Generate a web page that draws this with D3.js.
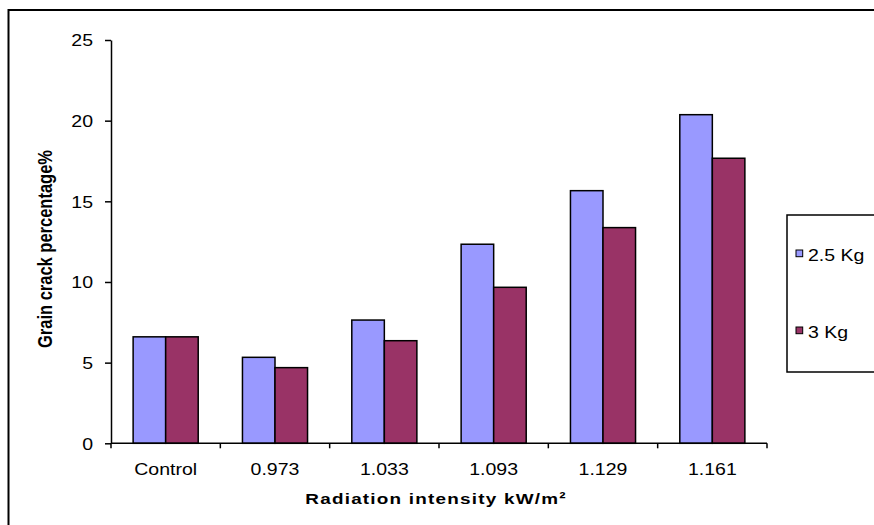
<!DOCTYPE html>
<html>
<head>
<meta charset="utf-8">
<script src="https://cdn.jsdelivr.net/npm/d3@7/dist/d3.min.js"></script>
<style>
  html, body { margin: 0; padding: 0; background: #fff; overflow: hidden; }
  svg { display: block; }
  text { font-family: "Liberation Sans", Arial, sans-serif; fill: #000; }
</style>
</head>
<body>
<svg id="chart" width="874" height="525"></svg>
<script>
// Grain crack percentage by radiation intensity, for two batch loads
const categories = ["Control", "0.973", "1.033", "1.093", "1.129", "1.161"];
const seriesNames = ["2.5 Kg", "3 Kg"];
const load25 = [6.6, 5.33, 7.64, 12.34, 15.66, 20.37];
const load3 = [6.6, 4.69, 6.36, 9.67, 13.37, 17.67];
const yTicks = [0, 5, 10, 15, 20, 25];
const colors = ["#9999FF", "#993366"];

const seriesValues = [load25, load3];
const rows = categories.map((c, i) => ({
  category: c,
  values: seriesNames.map((s, j) => ({ series: s, value: seriesValues[j][i], color: colors[j] }))
}));

const svg = d3.select("#chart");
const stretch = "scale(1.22,1)";

// outer chart frame (runs past the right and bottom edges)
svg.append("rect")
  .attr("x", 8.5).attr("y", 10)
  .attr("width", 1000).attr("height", 1000)
  .attr("fill", "none").attr("stroke", "#000").attr("stroke-width", 2);

const plot = { left: 111, right: 767, top: 40, bottom: 443.3 };

const x = d3.scaleBand().domain(categories).range([plot.left, plot.right]).padding(0);
const xs = d3.scaleBand().domain(seriesNames).range([0, x.bandwidth()])
  .paddingInner(0).paddingOuter(0.68);
const y = d3.scaleLinear().domain([0, 25]).range([plot.bottom, plot.top]);

// bars
const groups = svg.append("g").selectAll("g").data(rows).join("g")
  .attr("transform", d => `translate(${x(d.category)},0)`);
groups.selectAll("rect").data(d => d.values).join("rect")
  .attr("x", d => xs(d.series))
  .attr("y", d => y(d.value))
  .attr("width", xs.bandwidth())
  .attr("height", d => y(0) - y(d.value))
  .attr("fill", d => d.color)
  .attr("stroke", "#000").attr("stroke-width", 1.5);

// y axis
const yAxis = svg.append("g")
  .attr("transform", `translate(${plot.left},0)`)
  .call(d3.axisLeft(y).tickValues(yTicks).tickSize(6).tickSizeOuter(0).tickFormat(d3.format("d")));
yAxis.selectAll("path, line").attr("stroke", "#000").attr("stroke-width", 1.5);
yAxis.selectAll("text")
  .attr("x", null).attr("dy", null)
  .attr("text-anchor", "end")
  .attr("font-size", 16)
  .attr("transform", `translate(-18,5.8) ${stretch}`);

// x axis: ticks sit at category boundaries
const boundaries = d3.range(categories.length + 1).map(i => plot.left + i * x.step());
const xAxisG = svg.append("g").attr("transform", `translate(0,${plot.bottom})`);
xAxisG.append("line")
  .attr("x1", plot.left).attr("x2", plot.right)
  .attr("stroke", "#000").attr("stroke-width", 1.5);
xAxisG.selectAll("line.tick").data(boundaries).join("line")
  .attr("class", "tick")
  .attr("x1", d => d).attr("x2", d => d)
  .attr("y1", 0).attr("y2", 5)
  .attr("stroke", "#000").attr("stroke-width", 1.5);
xAxisG.selectAll("text").data(categories).join("text")
  .attr("text-anchor", "middle")
  .attr("font-size", 16)
  .attr("transform", d => `translate(${x(d) + x.bandwidth() / 2},${475 - plot.bottom}) ${stretch}`)
  .text(d => d);

// axis titles
svg.append("text")
  .attr("text-anchor", "middle")
  .attr("font-size", 15.5).attr("font-weight", "bold")
  .attr("letter-spacing", 1)
  .attr("transform", `translate(${(plot.left + plot.right) / 2 - 3},504) ${stretch}`)
  .text("Radiation intensity kW/m²");

svg.append("text")
  .attr("text-anchor", "middle")
  .attr("font-size", 16.5).attr("font-weight", "bold")
  .attr("transform", `translate(52,249) ${stretch} rotate(-90)`)
  .text("Grain crack percentage%");

// legend
const legend = svg.append("g");
legend.append("rect")
  .attr("x", 787).attr("y", 215)
  .attr("width", 200).attr("height", 157)
  .attr("fill", "#fff").attr("stroke", "#000").attr("stroke-width", 1.5);
const legendY = [253.3, 330.3];
const items = legend.selectAll("g.item").data(seriesNames).join("g").attr("class", "item");
items.append("rect")
  .attr("x", 796).attr("y", (d, i) => legendY[i] - 3.3)
  .attr("width", 6.7).attr("height", 6.7)
  .attr("fill", (d, i) => colors[i])
  .attr("stroke", "#000").attr("stroke-width", 1);
items.append("text")
  .attr("font-size", 16)
  .attr("transform", (d, i) => `translate(808,${legendY[i] + 7.8}) ${stretch}`)
  .text(d => d);
</script>
</body>
</html>
